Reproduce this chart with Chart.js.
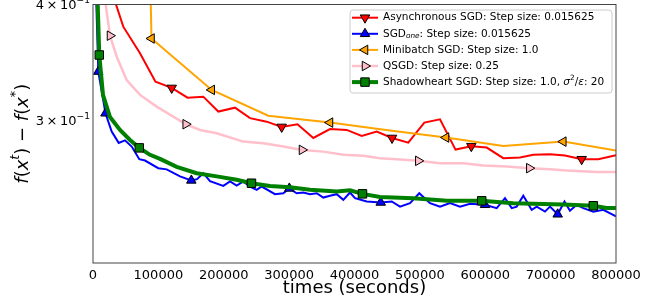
<!DOCTYPE html>
<html lang="en">
<head>
<meta charset="utf-8">
<title>f(x^t) - f(x^*) over time</title>
<style>
  html, body { margin: 0; padding: 0; background: #fff; }
  #wrap { width: 657px; height: 305px; }
</style>
</head>
<body>
<div id="wrap"><canvas id="chart" width="657" height="305"></canvas></div>
<script src="https://cdn.jsdelivr.net/npm/chart.js"></script>
<script>
  // values: x = time in seconds, y = f(x^t) - f(x^*)
  const asyncX = [22900, 46300, 71900, 95600, 120400, 144600, 168700, 191700, 217200, 240200, 265700, 288600, 312800, 337000, 362500, 388100, 411000, 434000, 457400, 482300, 506800, 530800, 554500, 578700, 602200, 627600, 653200, 673500, 699000, 722000, 747500, 772900, 800000];
  const asyncY = [0.4252, 0.3785, 0.3542, 0.3300, 0.3249, 0.3171, 0.3179, 0.3063, 0.3093, 0.3013, 0.2987, 0.2948, 0.2968, 0.2868, 0.2932, 0.2926, 0.2883, 0.2914, 0.2868, 0.2835, 0.2980, 0.3004, 0.2786, 0.2810, 0.2800, 0.2727, 0.2731, 0.2750, 0.2754, 0.2745, 0.2720, 0.2720, 0.2747];
  const asyncMarks = [4, 11, 18, 23, 30];

  const oneX = [2300, 8100, 19100, 28600, 39300, 48900, 59200, 70800, 79500, 99900, 112700, 133100, 150400, 159100, 168700, 179000, 199300, 209600, 219800, 229900, 240200, 250400, 258100, 278400, 291100, 300300, 311600, 321700, 331900, 342200, 352300, 362500, 372800, 382900, 393100, 400800, 418700, 440100, 456900, 469600, 484900, 499100, 515500, 530800, 546100, 561400, 576700, 599600, 617500, 630200, 640500, 648100, 658200, 671000, 678700, 691400, 699000, 710800, 721200, 729600, 739900, 750000, 765300, 780600, 800000];
  const oneY = [0.4697, 0.3384, 0.3050, 0.2914, 0.2833, 0.2851, 0.2807, 0.2720, 0.2711, 0.2660, 0.2652, 0.2606, 0.2580, 0.2588, 0.2627, 0.2575, 0.2545, 0.2573, 0.2547, 0.2573, 0.2541, 0.2520, 0.2541, 0.2493, 0.2499, 0.2529, 0.2499, 0.2503, 0.2493, 0.2499, 0.2472, 0.2483, 0.2493, 0.2458, 0.2503, 0.2468, 0.2448, 0.2442, 0.2448, 0.2417, 0.2438, 0.2499, 0.2438, 0.2417, 0.2438, 0.2417, 0.2434, 0.2428, 0.2408, 0.2468, 0.2408, 0.2417, 0.2483, 0.2398, 0.2417, 0.2387, 0.2417, 0.2371, 0.2448, 0.2392, 0.2428, 0.2408, 0.2387, 0.2398, 0.2359];
  const oneMarks = [1, 2, 12, 25, 37, 47, 57];

  const miniX = [84900, 89500, 181600, 268100, 362500, 451200, 540000, 627600, 719400, 800000];
  const miniY = [0.519, 0.3675, 0.3233, 0.3032, 0.2980, 0.2924, 0.2871, 0.2812, 0.2842, 0.2779];
  const miniMarks = [1, 2, 4, 6, 8];

  const qsgdX = [15300, 26000, 36300, 51500, 71900, 97400, 122800, 141800, 163700, 189200, 229900, 260500, 291100, 319700, 352300, 382900, 413500, 439000, 464600, 497600, 530800, 566400, 597000, 632800, 667400, 699000, 724600, 770500, 800000];
  const qsgdY = [0.4199, 0.3701, 0.3512, 0.3314, 0.3193, 0.3101, 0.3025, 0.2968, 0.2926, 0.2902, 0.2842, 0.2831, 0.2807, 0.2784, 0.2772, 0.2750, 0.2743, 0.2727, 0.2720, 0.2709, 0.2693, 0.2693, 0.2677, 0.2671, 0.2660, 0.2653, 0.2644, 0.2634, 0.2634];
  const qsgdMarks = [1, 7, 13, 19, 24];

  const shadowX = [2300, 9600, 15300, 26000, 41300, 56600, 70800, 87200, 102500, 128000, 158600, 189200, 219800, 242400, 270700, 301300, 331900, 372800, 393100, 412200, 439000, 489500, 541500, 594600, 642500, 718900, 765300, 785800, 800000];
  const shadowY = [0.519, 0.3527, 0.3193, 0.3022, 0.2926, 0.2854, 0.2798, 0.2750, 0.2722, 0.2669, 0.2627, 0.2606, 0.2584, 0.2562, 0.2545, 0.2536, 0.2520, 0.2509, 0.2517, 0.2495, 0.2476, 0.2468, 0.2452, 0.2452, 0.2438, 0.2429, 0.2422, 0.2409, 0.2409];
  const shadowMarks = [1, 6, 13, 19, 23, 26];

  const xTicks = [0, 100000, 200000, 300000, 400000, 500000, 600000, 700000, 800000];
  const yTicks = [0.3, 0.4];
  const yTickMant = ['3', '4'];

  const FONT = "'DejaVu Sans', sans-serif";

  const series = [
    { x: asyncX, y: asyncY, marks: asyncMarks, color: '#ff0000', width: 2, style: 'triangle', rot: 180, r: 5.5,
      label: [{ t: 'Asynchronous SGD: Step size: 0.015625' }] },
    { x: oneX, y: oneY, marks: oneMarks, color: '#0000ff', width: 2, style: 'triangle', rot: 0, r: 5.5,
      label: [{ t: 'SGD' }, { t: 'one', it: true, sub: true }, { t: ': Step size: 0.015625' }] },
    { x: miniX, y: miniY, marks: miniMarks, color: '#ffa500', width: 2, style: 'triangle', rot: -90, r: 5.5,
      label: [{ t: 'Minibatch SGD: Step size: 1.0' }] },
    { x: qsgdX, y: qsgdY, marks: qsgdMarks, color: '#ffc0cb', width: 2.5, style: 'triangle', rot: 90, r: 5.5,
      label: [{ t: 'QSGD: Step size: 0.25' }] },
    { x: shadowX, y: shadowY, marks: shadowMarks, color: '#008000', width: 4, style: 'rect', rot: 0, r: 6,
      label: [{ t: 'Shadowheart SGD: Step size: 1.0, ' }, { t: 'σ', it: true }, { t: '2', sup: true }, { t: '/' }, { t: 'ε', it: true }, { t: ': 20' }] }
  ];

  // text made of runs (italic / sub / superscript pieces)
  function drawRuns(ctx, x, y, runs, size, align) {
    const parts = runs.map(r => {
      const s = (r.sub || r.sup) ? size * 0.7 : size;
      const font = (r.it ? 'italic ' : '') + s + 'px ' + FONT;
      ctx.font = font;
      return { t: r.t, font: font, w: ctx.measureText(r.t).width, dy: r.sub ? size * 0.25 : (r.sup ? -size * 0.38 : 0) };
    });
    const total = parts.reduce((a, p) => a + p.w, 0);
    let cx = align === 'right' ? x - total : (align === 'center' ? x - total / 2 : x);
    ctx.textAlign = 'left';
    ctx.textBaseline = 'middle';
    parts.forEach(p => { ctx.font = p.font; ctx.fillText(p.t, cx, y + p.dy); cx += p.w; });
  }

  function drawMarker(ctx, s, x, y) {
    ctx.save();
    ctx.translate(x, y);
    ctx.rotate(s.rot * Math.PI / 180);
    ctx.beginPath();
    if (s.style === 'rect') {
      const h = s.r * Math.SQRT1_2;
      ctx.rect(-h, -h, 2 * h, 2 * h);
    } else {
      for (let i = 0; i < 3; i++) {
        const a = i * 2 * Math.PI / 3;
        ctx.lineTo(Math.sin(a) * s.r, -Math.cos(a) * s.r);
      }
      ctx.closePath();
    }
    ctx.fillStyle = s.color;
    ctx.fill();
    ctx.lineWidth = 1;
    ctx.strokeStyle = '#000';
    ctx.stroke();
    ctx.restore();
  }

  const decorations = {
    id: 'decorations',
    afterDraw(chart) {
      const ctx = chart.ctx;
      const a = chart.chartArea;
      const yScale = chart.scales.y;
      ctx.save();

      // axes box
      ctx.strokeStyle = '#444';
      ctx.lineWidth = 1;
      ctx.strokeRect(a.left, a.top, a.right - a.left, a.bottom - a.top);

      ctx.fillStyle = '#000';
      // y tick labels  (3 x 10^-1, 4 x 10^-1)
      yTicks.forEach((v, i) => {
        const py = yScale.getPixelForValue(v);
        drawRuns(ctx, a.left - 3, py + 1.5, [{ t: yTickMant[i] + '\u2009\u00d7\u200910' }, { t: '\u22121', sup: true }], 13, 'right');
      });

      // axis titles
      drawRuns(ctx, (a.left + a.right) / 2, 288, [{ t: 'times (seconds)' }], 18, 'center');
      ctx.save();
      ctx.translate(23, (a.top + a.bottom) / 2);
      ctx.rotate(-Math.PI / 2);
      drawRuns(ctx, 0, 0, [
        { t: 'f', it: true }, { t: '(' }, { t: 'x', it: true }, { t: 't', it: true, sup: true }, { t: ')' },
        { t: ' \u2212 ' }, { t: 'f', it: true }, { t: '(' }, { t: 'x', it: true }, { t: '*', sup: true }, { t: ')' }
      ], 18, 'center');
      ctx.restore();

      // legend
      const lx = 350, ly = 10, lw = 262, lh = 83;
      ctx.beginPath();
      ctx.roundRect(lx, ly, lw, lh, 3);
      ctx.fillStyle = 'rgba(255,255,255,0.8)';
      ctx.fill();
      ctx.strokeStyle = '#cccccc';
      ctx.lineWidth = 1;
      ctx.stroke();
      series.forEach((s, i) => {
        const yy = 17.7 + i * 16.1;
        ctx.beginPath();
        ctx.moveTo(352, yy);
        ctx.lineTo(378, yy);
        ctx.strokeStyle = s.color;
        ctx.lineWidth = s.width;
        ctx.stroke();
        drawMarker(ctx, s, 365, yy);
        ctx.fillStyle = '#000';
        drawRuns(ctx, 383, yy, s.label, 10.5, 'left');
      });
      ctx.restore();
    }
  };

  new Chart(document.getElementById('chart'), {
    type: 'line',
    data: {
      datasets: series.map((s, i) => ({
        data: s.x.map((v, j) => ({ x: v, y: s.y[j] })),
        borderColor: s.color,
        borderWidth: s.width,
        pointStyle: s.style,
        rotation: s.rot,
        pointRadius: c => s.marks.includes(c.dataIndex) ? s.r : 0,
        pointHoverRadius: 0,
        pointBackgroundColor: s.color,
        pointBorderColor: '#000',
        pointBorderWidth: 1,
        tension: 0,
        fill: false,
        clip: 0,
        order: series.length - 1 - i
      }))
    },
    options: {
      responsive: false,
      animation: false,
      devicePixelRatio: 1,
      layout: { padding: { left: 0, right: 41, top: 4.5, bottom: 0 } },
      plugins: { legend: { display: false }, tooltip: { enabled: false } },
      scales: {
        x: {
          type: 'linear', min: 0, max: 800000,
          afterBuildTicks: sc => { sc.ticks = xTicks.map(v => ({ value: v })); },
          afterFit: sc => { sc.height = 42; },
          ticks: { autoSkip: false, maxRotation: 0, color: '#000', padding: 5,
                   font: { family: FONT, size: 13 }, callback: v => String(v) },
          grid: { drawOnChartArea: false, drawTicks: false },
          border: { display: false }
        },
        y: {
          type: 'logarithmic', min: 0.2101, max: 0.4,
          afterBuildTicks: sc => { sc.ticks = yTicks.map(v => ({ value: v })); },
          afterFit: sc => { sc.width = 93; },
          ticks: { display: false },
          grid: { drawOnChartArea: false, drawTicks: false },
          border: { display: false }
        }
      }
    },
    plugins: [decorations]
  });
</script>
</body>
</html>
